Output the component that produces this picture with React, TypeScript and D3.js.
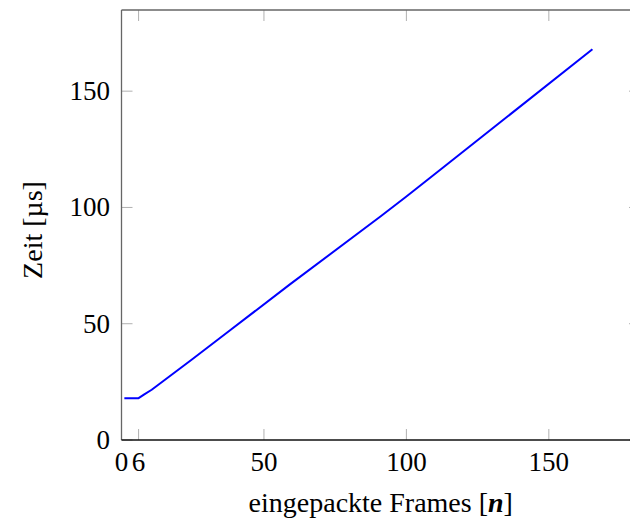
import React from "react";
import * as d3 from "d3";

// Measured packing time per number of packed frames
const framesN: number[] = [1, 6, 8, 10.6, 24.6, 38, 59, 91, 100, 112, 165.3];
const timeUs: number[] = [18, 18, 19.6, 21.6, 34.5, 47.1, 66.8, 96.2, 104.7, 116.3, 168];

const xTicks: number[] = [0, 6, 50, 100, 150];
const yTicks: number[] = [0, 50, 100, 150];

const W = 630;
const H = 519;
const left = 121.5;
const right = 640;
const top = 10;
const bottom = 440;

const FONT = "'Liberation Serif', 'DejaVu Serif', serif";

export default function App() {
  const x = d3.scaleLinear().domain([0, 182]).range([left, right]);
  const y = d3.scaleLinear().domain([0, 184.9]).range([bottom, top]);

  const pts: [number, number][] = framesN.map((n, i) => [n, timeUs[i]]);
  const line = d3
    .line<[number, number]>()
    .x((d) => x(d[0]))
    .y((d) => y(d[1]));

  const tickLen = 11;

  return (
    <svg
      width={W}
      height={H}
      style={{ position: "absolute", left: 0, top: 0, background: "#fff" }}
      fontFamily={FONT}
    >
      {/* ticks */}
      {xTicks.map((t) => (
        <g key={"xt" + t} stroke="#b0b0b0" strokeWidth={1}>
          <line x1={x(t)} x2={x(t)} y1={bottom} y2={bottom - tickLen} />
          <line x1={x(t)} x2={x(t)} y1={top} y2={top + tickLen} />
        </g>
      ))}
      {yTicks.map((t) => (
        <g key={"yt" + t} stroke="#b0b0b0" strokeWidth={1}>
          <line x1={left} x2={left + tickLen} y1={y(t)} y2={y(t)} />
          <line x1={right} x2={right - tickLen} y1={y(t)} y2={y(t)} />
        </g>
      ))}

      {/* data */}
      <path d={line(pts) ?? ""} fill="none" stroke="#0000ff" strokeWidth={2} strokeLinejoin="round" />

      {/* axis frame */}
      <line x1={left} x2={right} y1={top} y2={top} stroke="#666" strokeWidth={1.3} />
      <line x1={left} x2={left} y1={top} y2={bottom} stroke="#666" strokeWidth={1.3} />
      <line x1={right} x2={right} y1={top} y2={bottom} stroke="#666" strokeWidth={1.3} />
      <line x1={left} x2={right} y1={bottom} y2={bottom} stroke="#111" strokeWidth={1.3} />

      {/* tick labels */}
      {xTicks.map((t) => (
        <text key={"xl" + t} x={x(t)} y={471} textAnchor="middle" fontSize={27} fill="#000">
          {t}
        </text>
      ))}
      {yTicks.map((t) => (
        <text key={"yl" + t} x={110} y={y(t) + 9} textAnchor="end" fontSize={27} fill="#000">
          {t}
        </text>
      ))}

      {/* axis labels */}
      <text x={(left + right) / 2} y={512} textAnchor="middle" fontSize={28} fill="#000">
        eingepackte Frames [<tspan fontStyle="italic" fontWeight="bold">n</tspan>]
      </text>
      <text
        transform={`translate(42, ${(top + bottom) / 2 + 5}) rotate(-90)`}
        textAnchor="middle"
        fontSize={28}
        fill="#000"
      >
        Zeit [µs]
      </text>
    </svg>
  );
}
